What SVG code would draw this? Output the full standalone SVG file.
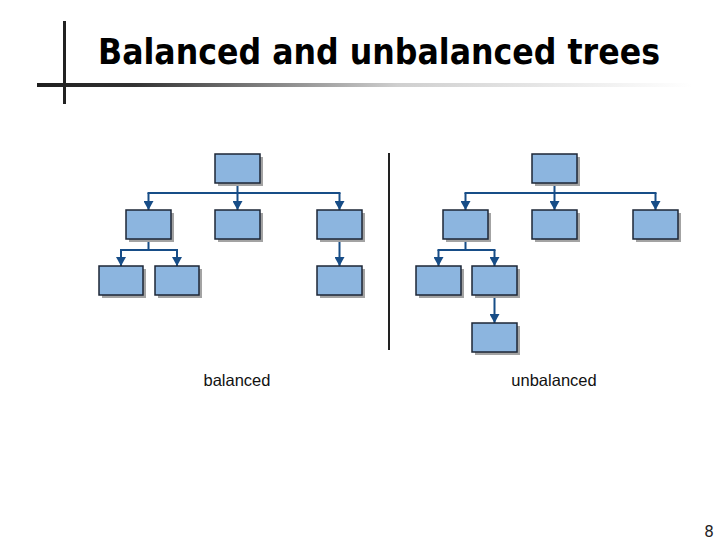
<svg xmlns="http://www.w3.org/2000/svg" width="720" height="540" viewBox="0 0 720 540">
  <defs>
    <linearGradient id="rule" x1="0" y1="0" x2="1" y2="0">
      <stop offset="0" stop-color="#1e1e1e"/>
      <stop offset="0.15" stop-color="#333"/>
      <stop offset="0.55" stop-color="#cfcfcf"/>
      <stop offset="1" stop-color="#ffffff"/>
    </linearGradient>
    <marker id="ah" markerUnits="userSpaceOnUse" markerWidth="10" markerHeight="9" viewBox="0 0 10 9" refX="5" refY="9" orient="0">
      <path d="M0,0 L10,0 L5,9 Z" fill="#174d87"/>
    </marker>
  </defs>
  <style>
    .box { fill: #8cb5df; stroke: #1c2636; stroke-width: 1.5; }
    .shadow { fill: #a3a3a3; }
    .conn { stroke: #174d87; stroke-width: 2; fill: none; }
    .arrow { stroke: #174d87; stroke-width: 2; fill: none; marker-end: url(#ah); }
    .label { font-family: "Liberation Sans", Arial, sans-serif; font-size: 16.5px; fill: #111; text-anchor: middle; }
  </style>
  <rect width="720" height="540" fill="#ffffff"/>

  <g id="title">
    <line x1="64.5" y1="21" x2="64.5" y2="104" stroke="#222" stroke-width="3"/>
    <rect x="37" y="83" width="655" height="4" fill="url(#rule)"/>
    <text x="98" y="64" font-family="DejaVu Sans, Verdana, sans-serif" font-weight="bold" font-size="35" textLength="562" lengthAdjust="spacingAndGlyphs" fill="#000">Balanced and unbalanced trees</text>
  </g>

  <g id="divider">
    <line x1="389" y1="153" x2="389" y2="350" stroke="#222" stroke-width="2"/>
  </g>

  <g id="connectors">
    <!-- balanced tree -->
    <line class="conn" x1="237.5" y1="183" x2="237.5" y2="193"/>
    <line class="conn" x1="147.5" y1="193" x2="340.5" y2="193"/>
    <line class="arrow" x1="148.5" y1="193" x2="148.5" y2="210"/>
    <line class="arrow" x1="237.5" y1="193" x2="237.5" y2="210"/>
    <line class="arrow" x1="339.5" y1="193" x2="339.5" y2="210"/>
    <line class="conn" x1="148.5" y1="240" x2="148.5" y2="250"/>
    <line class="conn" x1="120" y1="250" x2="178" y2="250"/>
    <line class="arrow" x1="121" y1="250" x2="121" y2="266"/>
    <line class="arrow" x1="177" y1="250" x2="177" y2="266"/>
    <line class="arrow" x1="339.5" y1="240" x2="339.5" y2="266"/>
    <!-- unbalanced tree -->
    <line class="conn" x1="554.5" y1="183" x2="554.5" y2="193"/>
    <line class="conn" x1="464.5" y1="193" x2="656.5" y2="193"/>
    <line class="arrow" x1="465.5" y1="193" x2="465.5" y2="210"/>
    <line class="arrow" x1="554.5" y1="193" x2="554.5" y2="210"/>
    <line class="arrow" x1="655.5" y1="193" x2="655.5" y2="210"/>
    <line class="conn" x1="465.5" y1="240" x2="465.5" y2="250"/>
    <line class="conn" x1="437.5" y1="250" x2="495.5" y2="250"/>
    <line class="arrow" x1="438.5" y1="250" x2="438.5" y2="266"/>
    <line class="arrow" x1="494.5" y1="250" x2="494.5" y2="266"/>
    <line class="arrow" x1="494.5" y1="296" x2="494.5" y2="323"/>
  </g>

  <!-- balanced tree nodes -->
  <g id="b-root"><rect class="shadow" x="218" y="157" width="45" height="29"/><rect class="box" x="215" y="154" width="45" height="29"/></g>
  <g id="b-l"><rect class="shadow" x="129" y="213" width="45" height="29"/><rect class="box" x="126" y="210" width="45" height="29"/></g>
  <g id="b-m"><rect class="shadow" x="218" y="213" width="45" height="29"/><rect class="box" x="215" y="210" width="45" height="29"/></g>
  <g id="b-r"><rect class="shadow" x="320" y="213" width="45" height="29"/><rect class="box" x="317" y="210" width="45" height="29"/></g>
  <g id="b-ll"><rect class="shadow" x="102" y="269" width="44" height="29"/><rect class="box" x="99" y="266" width="44" height="29"/></g>
  <g id="b-lr"><rect class="shadow" x="158" y="269" width="44" height="29"/><rect class="box" x="155" y="266" width="44" height="29"/></g>
  <g id="b-rr"><rect class="shadow" x="320" y="269" width="45" height="29"/><rect class="box" x="317" y="266" width="45" height="29"/></g>

  <!-- unbalanced tree nodes -->
  <g id="u-root"><rect class="shadow" x="535" y="157" width="45" height="29"/><rect class="box" x="532" y="154" width="45" height="29"/></g>
  <g id="u-l"><rect class="shadow" x="446" y="213" width="45" height="29"/><rect class="box" x="443" y="210" width="45" height="29"/></g>
  <g id="u-m"><rect class="shadow" x="535" y="213" width="45" height="29"/><rect class="box" x="532" y="210" width="45" height="29"/></g>
  <g id="u-r"><rect class="shadow" x="636" y="213" width="45" height="29"/><rect class="box" x="633" y="210" width="45" height="29"/></g>
  <g id="u-ll"><rect class="shadow" x="419" y="269" width="45" height="29"/><rect class="box" x="416" y="266" width="45" height="29"/></g>
  <g id="u-lr"><rect class="shadow" x="475" y="269" width="45" height="29"/><rect class="box" x="472" y="266" width="45" height="29"/></g>
  <g id="u-lrr"><rect class="shadow" x="475" y="326" width="45" height="29"/><rect class="box" x="472" y="323" width="45" height="29"/></g>

  <g id="labels">
    <text class="label" x="237" y="386">balanced</text>
    <text class="label" x="554" y="386">unbalanced</text>
  </g>

  <g id="page-number">
    <text x="709" y="537" font-family="DejaVu Sans, sans-serif" font-size="15" fill="#222" text-anchor="middle">8</text>
  </g>
</svg>
